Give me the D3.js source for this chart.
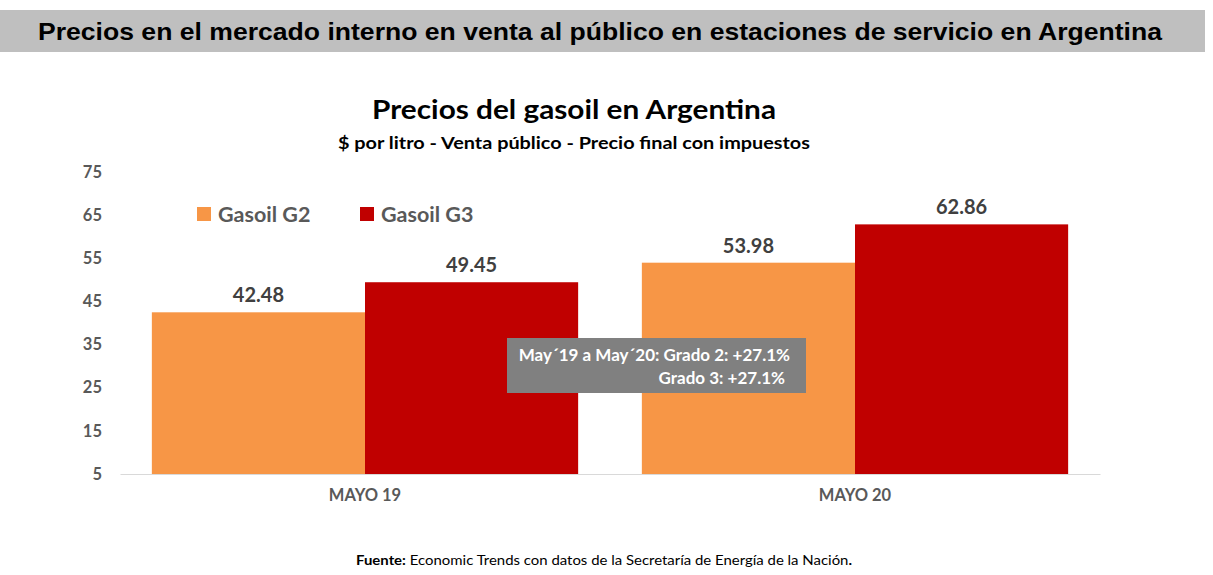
<!DOCTYPE html>
<html>
<head>
<meta charset="utf-8">
<script src="https://cdn.jsdelivr.net/npm/d3@7"></script>
<style>
  body { margin: 0; background: #fff; }
  svg { display: block; }
</style>
</head>
<body>
<div id="chart"></div>
<script>
// data
var categories = ["MAYO 19", "MAYO 20"];
var seriesNames = ["Gasoil G2", "Gasoil G3"];
var seriesColors = ["#f79646", "#c00000"];
var g2Values = [42.48, 53.98];
var g3Values = [49.45, 62.86];
var yTicks = [5, 15, 25, 35, 45, 55, 65, 75];
var noteLines = ["May\u00b419 a May\u00b420: Grado 2: +27.1%", "Grado 3: +27.1%"];

var width = 1213, height = 575;
var margin = {top: 172, right: 113, bottom: 101, left: 120};
var font = "Lato, 'Open Sans', sans-serif";

var svg = d3.select("#chart").append("svg")
  .attr("width", width)
  .attr("height", height);

// header band
svg.append("rect")
  .attr("x", 0).attr("y", 10)
  .attr("width", 1205).attr("height", 42)
  .attr("fill", "#bfbfbf");
svg.append("text")
  .attr("x", 38).attr("y", 40)
  .attr("textLength", 1124)
  .attr("lengthAdjust", "spacingAndGlyphs")
  .attr("font-family", "'Liberation Sans Narrow', 'Liberation Sans', Arial, sans-serif")
  .attr("font-weight", "bold")
  .attr("font-size", 24)
  .attr("fill", "#000")
  .text("Precios en el mercado interno en venta al público en estaciones de servicio en Argentina");

// titles
svg.append("text")
  .attr("x", 574).attr("y", 119)
  .attr("text-anchor", "middle")
  .attr("textLength", 404)
  .attr("lengthAdjust", "spacingAndGlyphs")
  .attr("font-family", font)
  .attr("font-weight", "bold")
  .attr("font-size", 27)
  .attr("fill", "#000")
  .text("Precios del gasoil en Argentina");
svg.append("text")
  .attr("x", 574).attr("y", 149)
  .attr("text-anchor", "middle")
  .attr("textLength", 472)
  .attr("lengthAdjust", "spacingAndGlyphs")
  .attr("font-family", font)
  .attr("font-weight", "bold")
  .attr("font-size", 17)
  .attr("fill", "#000")
  .text("$ por litro - Venta público - Precio final con impuestos");

var innerW = width - margin.left - margin.right;
var innerH = height - margin.top - margin.bottom;

var x0 = d3.scaleBand().domain(categories).range([0, innerW]).paddingInner(0.13).paddingOuter(0.065);
var x1 = d3.scaleBand().domain(seriesNames).range([0, x0.bandwidth()]);
var y = d3.scaleLinear().domain([5, 75]).range([innerH, 0]);

var g = svg.append("g").attr("transform", "translate(" + margin.left + "," + margin.top + ")");

// y tick labels (no axis line)
var yAxis = g.append("g")
  .attr("transform", "translate(-18,0)")
  .call(d3.axisLeft(y).tickValues(yTicks).tickSize(0).tickPadding(0));
yAxis.select(".domain").remove();
yAxis.selectAll("text")
  .attr("font-family", font)
  .attr("font-weight", "bold")
  .attr("font-size", 16.5)
  .attr("fill", "#595959");

var rows = categories.map(function (c, i) {
  return {cat: c, values: [
    {name: seriesNames[0], value: g2Values[i], color: seriesColors[0]},
    {name: seriesNames[1], value: g3Values[i], color: seriesColors[1]}
  ]};
});

var groups = g.selectAll(".cat")
  .data(rows)
  .enter().append("g")
  .attr("class", "cat")
  .attr("transform", function (d) { return "translate(" + x0(d.cat) + ",0)"; });

groups.selectAll("rect")
  .data(function (d) { return d.values; })
  .enter().append("rect")
  .attr("x", function (d) { return x1(d.name); })
  .attr("y", function (d) { return y(d.value); })
  .attr("width", x1.bandwidth())
  .attr("height", function (d) { return innerH - y(d.value); })
  .attr("fill", function (d) { return d.color; });

groups.selectAll(".val")
  .data(function (d) { return d.values; })
  .enter().append("text")
  .attr("class", "val")
  .attr("x", function (d) { return x1(d.name) + x1.bandwidth() / 2; })
  .attr("y", function (d) { return y(d.value) - 10; })
  .attr("text-anchor", "middle")
  .attr("font-family", font)
  .attr("font-weight", "bold")
  .attr("font-size", 20)
  .attr("fill", "#404040")
  .text(function (d) { return d.value.toFixed(2); });

// baseline
var xAxis = g.append("g")
  .attr("transform", "translate(0," + innerH + ")")
  .call(d3.axisBottom(x0).tickSize(0).tickPadding(15));
xAxis.select(".domain").attr("stroke", "#d9d9d9");
xAxis.selectAll("text")
  .attr("font-family", font)
  .attr("font-weight", "bold")
  .attr("font-size", 16.5)
  .attr("fill", "#595959");

// legend
var legend = svg.append("g").attr("transform", "translate(197,207)");
var legItems = legend.selectAll("g")
  .data(seriesNames)
  .enter().append("g")
  .attr("transform", function (d, i) { return "translate(" + (i * 163) + ",0)"; });
legItems.append("rect")
  .attr("width", 14).attr("height", 14)
  .attr("fill", function (d, i) { return seriesColors[i]; });
legItems.append("text")
  .attr("x", 21).attr("y", 15)
  .attr("font-family", font)
  .attr("font-weight", "bold")
  .attr("font-size", 21.5)
  .attr("fill", "#595959")
  .text(function (d) { return d; });

// note box
svg.append("rect")
  .attr("x", 507).attr("y", 338)
  .attr("width", 299).attr("height", 55)
  .attr("fill", "#808080");
svg.selectAll(".note")
  .data(noteLines)
  .enter().append("text")
  .attr("class", "note")
  .attr("x", function (d, i) { return i === 0 ? 790 : 785; })
  .attr("y", function (d, i) { return 361 + i * 23; })
  .attr("text-anchor", "end")
  .attr("font-family", font)
  .attr("font-weight", "bold")
  .attr("font-size", 17)
  .attr("fill", "#fff")
  .text(function (d) { return d; });

// source
var src = svg.append("text")
  .attr("x", 604).attr("y", 565)
  .attr("text-anchor", "middle")
  .attr("textLength", 496)
  .attr("lengthAdjust", "spacingAndGlyphs")
  .attr("font-family", font)
  .attr("font-size", 14)
  .attr("fill", "#000");
src.append("tspan").attr("font-weight", "bold").text("Fuente:");
src.append("tspan").text(" Economic Trends con datos de la Secretaría de Energía de la Nación");
src.append("tspan").attr("font-weight", "bold").text(".");
</script>
</body>
</html>
